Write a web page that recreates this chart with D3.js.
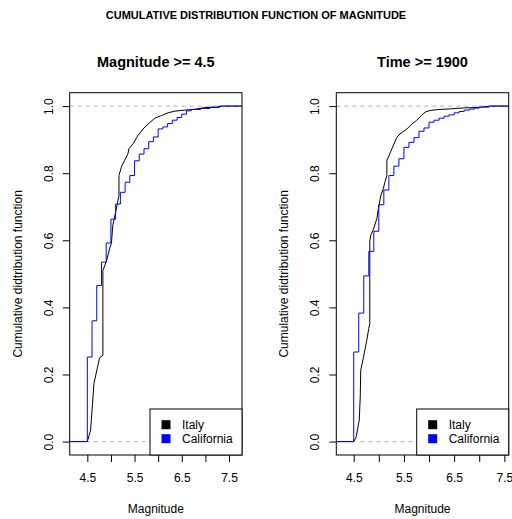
<!DOCTYPE html>
<html>
<head>
<meta charset="utf-8">
<script src="https://cdn.jsdelivr.net/npm/d3@7"></script>
<style>
  html, body { margin: 0; padding: 0; background: #fff; }
  svg { display: block; }
  text { font-family: "Liberation Sans", Arial, Helvetica, sans-serif; fill: #000; }
</style>
</head>
<body>
<svg id="chart" width="512" height="519"></svg>
<script>
// Empirical CDF of earthquake magnitudes, Italy vs California.

// Panel A: Magnitude >= 4.5
// Italy catalogue: dense ECDF, listed as (magnitude, cumulative share) breakpoints
const italyMagA = [4.50, 4.57, 4.64, 4.76, 4.83, 4.83, 4.91, 4.98, 5.01, 5.04, 5.10, 5.17, 5.17,
                   5.22, 5.29, 5.36, 5.38, 5.47, 5.57, 5.68, 5.79, 5.93, 6.07, 6.21, 6.35, 6.56,
                   6.75, 6.96, 7.31, 7.40];
const italyCdfA = [0.000, 0.034, 0.173, 0.250, 0.257, 0.510, 0.540, 0.580, 0.590, 0.645, 0.684, 0.734, 0.793,
                   0.818, 0.838, 0.858, 0.873, 0.888, 0.912, 0.932, 0.947, 0.964, 0.972, 0.980, 0.985, 0.988,
                   0.990, 0.995, 0.999, 1.000];
// California catalogue: magnitudes in 0.1 steps
const calMagA = [4.5, 4.6, 4.7, 4.8, 4.9, 5.0, 5.1, 5.2, 5.3, 5.4, 5.5, 5.6, 5.7, 5.8, 5.9,
                 6.0, 6.1, 6.2, 6.3, 6.4, 6.5, 6.6, 6.7, 6.9, 7.1, 7.3];
const calCdfA = [0.252, 0.360, 0.465, 0.535, 0.592, 0.663, 0.708, 0.743, 0.773, 0.793, 0.837, 0.857, 0.873, 0.894, 0.908,
                 0.932, 0.938, 0.948, 0.958, 0.966, 0.976, 0.986, 0.990, 0.993, 0.996, 1.000];

// Panel B: Time >= 1900
const italyMagB = [4.50, 4.55, 4.61, 4.63, 4.64, 4.69, 4.76, 4.80, 4.82, 4.82, 4.84, 4.89, 4.96, 4.99,
                   5.04, 5.09, 5.12, 5.16, 5.16, 5.19, 5.26, 5.36, 5.42, 5.56, 5.66, 5.75, 5.85,
                   5.92, 6.02, 6.19, 6.45, 6.62, 6.94, 7.24];
const italyCdfB = [0.000, 0.014, 0.064, 0.133, 0.213, 0.248, 0.302, 0.337, 0.352, 0.598, 0.615, 0.632, 0.664, 0.694,
                   0.734, 0.754, 0.773, 0.793, 0.838, 0.848, 0.873, 0.907, 0.917, 0.932, 0.947, 0.957, 0.972,
                   0.982, 0.987, 0.990, 0.992, 0.994, 0.996, 1.000];
const calMagB = [4.5, 4.6, 4.7, 4.8, 4.9, 5.0, 5.1, 5.2, 5.3, 5.4, 5.5, 5.6, 5.7, 5.8, 5.9,
                 6.0, 6.1, 6.2, 6.3, 6.4, 6.5, 6.6, 6.7, 6.8, 6.9, 7.0, 7.2];
const calCdfB = [0.267, 0.383, 0.494, 0.567, 0.627, 0.706, 0.750, 0.793, 0.821, 0.843, 0.877, 0.892, 0.906, 0.925, 0.935,
                 0.952, 0.958, 0.964, 0.970, 0.974, 0.980, 0.984, 0.988, 0.991, 0.994, 0.997, 1.000];

// Axes
const xTickValues = [4.5, 5.0, 5.5, 6.0, 6.5, 7.0, 7.5];
const xTickLabels = ["4.5", "", "5.5", "", "6.5", "", "7.5"];
const yTickValues = [0, 0.2, 0.4, 0.6, 0.8, 1.0];
const yTickLabels = ["0.0", "0.2", "0.4", "0.6", "0.8", "1.0"];

const seriesNames = ["Italy", "California"];
const seriesColors = ["#000000", "#0000ff"];

const mainTitle = "CUMULATIVE DISTRIBUTION FUNCTION OF MAGNITUDE";
const xTitle = "Magnitude";
const yTitle = "Cumulative didtribution function";

const panels = [
  { title: "Magnitude >= 4.5", left: 69.7, right: 242, xDomain: [4.127, 7.775],
    italy: [italyMagA, italyCdfA], cal: [calMagA, calCdfA] },
  { title: "Time >= 1900", left: 336.3, right: 508.7, xDomain: [4.153, 7.587],
    italy: [italyMagB, italyCdfB], cal: [calMagB, calCdfB] }
];

const plotTop = 92.7, plotBottom = 455;
const svg = d3.select("#chart");

svg.append("text")
  .attr("x", 256).attr("y", 19)
  .attr("text-anchor", "middle")
  .style("font-size", "11px").style("font-weight", "bold")
  .text(mainTitle);

const y = d3.scaleLinear().domain([-0.04, 1.04]).range([plotBottom, plotTop]);

panels.forEach((p, i) => {
  const x = d3.scaleLinear().domain(p.xDomain).range([p.left, p.right]);
  const g = svg.append("g");
  const clipId = "clip" + i;
  svg.append("clipPath").attr("id", clipId)
    .append("rect").attr("x", p.left).attr("y", plotTop)
    .attr("width", p.right - p.left).attr("height", plotBottom - plotTop);

  const plot = g.append("g").attr("clip-path", `url(#${clipId})`);

  // Italy: dense ECDF drawn through its breakpoints, extended flat to both edges
  const itPts = [[p.xDomain[0], 0]]
    .concat(p.italy[0].map((m, k) => [m, p.italy[1][k]]))
    .concat([[p.xDomain[1], 1]]);
  plot.append("path")
    .attr("d", d3.line().x(d => x(d[0])).y(d => y(d[1]))(itPts))
    .attr("fill", "none").attr("stroke", seriesColors[0]).attr("stroke-width", 1);

  // reference lines at 0 and 1
  [0, 1].forEach(v => {
    plot.append("line")
      .attr("x1", p.left).attr("x2", p.right)
      .attr("y1", y(v)).attr("y2", y(v))
      .attr("stroke", "#b3b3b3").attr("stroke-width", 1)
      .attr("stroke-dasharray", "4,4");
  });

  // California: step function
  const caPts = [[p.xDomain[0], 0]]
    .concat(p.cal[0].map((m, k) => [m, p.cal[1][k]]))
    .concat([[p.xDomain[1], 1]]);
  plot.append("path")
    .attr("d", d3.line().curve(d3.curveStepAfter).x(d => x(d[0])).y(d => y(d[1]))(caPts))
    .attr("fill", "none").attr("stroke", seriesColors[1]).attr("stroke-width", 1);

  // x axis
  const xAxis = g.append("g").attr("transform", `translate(0,${plotBottom})`)
    .call(d3.axisBottom(x).tickValues(xTickValues).tickSize(7).tickPadding(11)
      .tickFormat((d, k) => xTickLabels[k]));
  xAxis.select(".domain").remove();
  xAxis.selectAll("line").attr("stroke", "#000");
  xAxis.selectAll("text").style("font-size", "12px").attr("fill", "#000")
    .style("font-family", '"Liberation Sans", Arial, sans-serif');

  // y axis with rotated labels
  const yAxis = g.append("g").attr("transform", `translate(${p.left},0)`)
    .call(d3.axisLeft(y).tickValues(yTickValues).tickSize(7).tickFormat((d, k) => yTickLabels[k]));
  yAxis.select(".domain").remove();
  yAxis.selectAll("line").attr("stroke", "#000");
  yAxis.selectAll("text")
    .attr("x", null).attr("dy", null)
    .attr("text-anchor", "middle")
    .attr("transform", "translate(-17,0) rotate(-90)")
    .style("font-size", "12px").attr("fill", "#000")
    .style("font-family", '"Liberation Sans", Arial, sans-serif');

  // plot frame
  g.append("rect")
    .attr("x", p.left).attr("y", plotTop)
    .attr("width", p.right - p.left).attr("height", plotBottom - plotTop)
    .attr("fill", "none").attr("stroke", "#000").attr("stroke-width", 1);

  // panel title
  g.append("text")
    .attr("x", (p.left + p.right) / 2).attr("y", 67)
    .attr("text-anchor", "middle")
    .style("font-size", "14.5px").style("font-weight", "bold")
    .text(p.title);

  // axis titles
  g.append("text")
    .attr("x", (p.left + p.right) / 2).attr("y", 513)
    .attr("text-anchor", "middle")
    .style("font-size", "12px")
    .text(xTitle);
  g.append("text")
    .attr("transform", `translate(${p.left - 48},${(plotTop + plotBottom) / 2}) rotate(-90)`)
    .attr("text-anchor", "middle")
    .style("font-size", "12px")
    .text(yTitle);

  // legend (bottom right of plot area)
  const lw = 92, lh = 46;
  const lg = g.append("g").attr("transform", `translate(${p.right - lw},${plotBottom - lh})`);
  lg.append("rect").attr("width", lw).attr("height", lh)
    .attr("fill", "#fff").attr("stroke", "#000").attr("stroke-width", 1);
  seriesNames.forEach((name, k) => {
    const cy = 15.7 + k * 14;
    lg.append("rect")
      .attr("x", 11.5).attr("y", cy - 4.5).attr("width", 9).attr("height", 9)
      .attr("fill", seriesColors[k]);
    lg.append("text")
      .attr("x", 32).attr("y", cy + 4.3)
      .style("font-size", "12px")
      .text(name);
  });
});
</script>
</body>
</html>
